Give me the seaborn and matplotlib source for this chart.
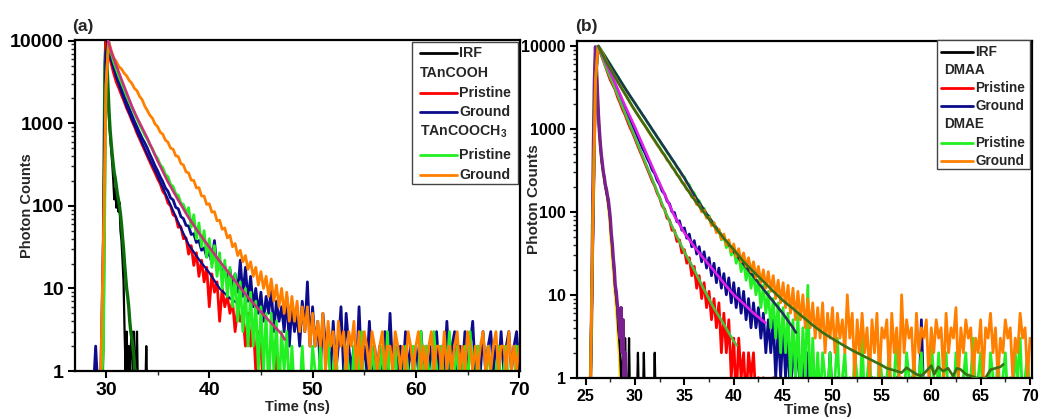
import numpy as np
import pandas as pd
import seaborn as sns
import matplotlib
matplotlib.use("Agg")
import matplotlib.pyplot as plt
from matplotlib.lines import Line2D
from matplotlib.patches import Rectangle
from matplotlib.ticker import MultipleLocator, FixedLocator, FixedFormatter

# ---------------- DATA : panel (a) ----------------
DT = 0.25          # ns per plotted channel (data curves)
DT_IRF = 0.1       # ns per plotted channel (IRF curves)

# TAnCOOH pristine (red), start 29.75 ns
a_red_t0 = 29.75
a_red = [3, 9900, 7200, 5300, 4000, 3150, 2650, 2200, 1850, 1520, 1300, 1080, 920, 760, 650, 550, 470,
         400, 340, 290, 250, 212, 185, 150, 136, 108, 100, 78, 74, 55, 56, 40, 41, 26, 33, 19, 27, 14, 22,
         12, 18, 6, 15, 9, 12, 4, 10, 6, 8, 5, 7, 3, 6, 4, 5, 2, 5, 2, 4, 1, 3, 2, 0, 1, 0, 1, 0, 2, 0, 1]
# TAnCOOH ground (navy), start 28.75 ns
a_blue_t0 = 28.75
a_blue = [0, 2, 0, 1, 40, 7000, 9700, 6100, 4700, 3850, 3150, 2600, 2150, 1800, 1500, 1270, 1060, 900, 770,
          660, 580, 500, 420, 360, 305, 265, 225, 196, 165, 150, 125, 118, 96, 92, 74, 70, 58, 57, 45, 46, 36,
          38, 29, 31, 24, 28, 20, 38, 17, 22, 14, 19, 12, 17, 10, 15, 9, 22, 8, 18, 7, 14, 6, 10, 5, 9, 4, 8,
          5, 10, 3, 7, 4, 6, 3, 8, 2, 6, 3, 5, 2, 7, 3, 12, 2,
          6, 2, 4, 1, 5, 2, 2, 1, 4, 1, 2, 6, 1, 5, 2, 1, 2, 1, 6, 1, 2, 1, 4, 1, 2, 1, 2, 1, 3, 1, 5, 1, 2,
          1, 2, 1, 3, 1, 2, 1, 2, 1, 3, 1, 2, 1, 2, 1, 3, 1, 2, 1, 4, 1, 2, 3, 1, 2, 1, 3, 1, 2, 4, 1, 2, 1,
          3, 1, 2, 3, 1, 2, 1, 3, 1, 2, 3, 1, 2, 3, 1]
# TAnCOOCH3 pristine (green), start 29.5 ns
a_green_t0 = 29.5
a_green = [0, 2, 3000, 9800, 7100, 5500, 4500, 3700, 3100, 2600, 2150, 1820, 1560, 1320, 1130, 960, 840, 720,
           640, 545, 490, 415, 375, 315, 290, 240, 225, 182, 172, 140, 134, 108, 104, 82,
           95, 55, 78, 40, 62, 32, 50, 24, 40, 18, 33, 14, 27, 10, 22, 8, 18, 6, 15, 4, 12, 3, 10, 2, 9, 2,
           7, 1, 6, 1, 5, 0, 5, 1, 4, 0, 3, 1, 3, 0, 2, 0, 1, 0, 2, 0, 1,
           0, 2, 1, 0, 2, 0, 1, 3, 0, 1, 2, 0, 1, 0, 2, 1, 0, 2, 0, 1, 3, 0, 1, 0, 2, 1, 0, 1, 2, 0, 3, 0, 1,
           2, 0, 1, 0, 2, 1, 0, 2, 0, 1, 3, 0, 2, 1, 0, 3, 1, 0, 2, 0, 1, 3, 0, 1, 2, 0, 1, 2, 0, 3, 1, 0, 2,
           0, 1, 0, 2, 1, 0, 1, 2, 0, 1, 2, 0, 1, 0, 2]
# TAnCOOCH3 ground (orange), start 29.5 ns
a_orange_t0 = 29.5
a_orange = [1, 40, 2600, 9900, 7700, 6200, 5600, 4850, 4550, 4050, 3750, 3300, 3050, 2650, 2480, 2120, 1930,
            1620, 1430, 1250, 1150, 980, 910, 780, 735, 625, 590, 500, 485, 405, 395, 325, 312, 258, 250, 205,
            203, 165, 166, 132, 131, 104, 106, 84, 85, 66, 67, 52, 54, 41, 44, 32, 35, 25, 29, 21, 25, 17, 21,
            14, 18, 11, 16, 10, 14, 8, 13, 7, 11, 6, 10, 5, 9, 4, 8, 4, 7, 3, 6, 3, 6, 2, 5, 2, 4, 2, 5, 1, 4,
            2, 3, 1, 4, 2, 3, 1, 3, 2, 4, 1, 3, 1, 3,
            2, 1, 3, 2, 1, 2, 3, 1, 2, 2, 1, 3, 2, 1, 2, 1, 3, 2, 1, 2, 3, 1, 2, 1, 2, 3, 1, 2, 2, 1, 3, 1, 2,
            1, 2, 3, 1, 2, 1, 3, 2, 1, 2, 1, 2, 3, 1, 2, 1, 2, 3, 1, 2, 2, 1, 3, 1, 2, 1, 2, 2]
# IRF (black) and second IRF trace (dark green), start 29.6 ns, 0.1 ns channels
a_irf_t0 = 29.6
a_irf = [0, 1, 30, 3000, 9500, 4200, 2000, 1100, 700, 480, 330, 210, 120, 160, 95, 125, 85, 110, 50, 38, 22,
         12, 3, 1, 3, 1, 2, 1, 2, 3, 1, 3, 1, 0, 3, 0, 0, 0, 0, 0, 0, 0, 0, 2, 0, 0, 0]
a_irf2_t0 = 29.6
a_irf2 = [0, 2, 200, 5200, 10000, 5200, 2600, 1350, 820, 580, 420, 320, 250, 215, 175, 140, 120, 100, 80, 60,
          42, 30, 20, 14, 10, 8, 6, 4, 3, 2.5, 2, 1.5, 1, 1]
# fit curve (crimson) through TAnCOOCH3 pristine
a_fit1_t = [30.2, 30.5, 31, 31.5, 32, 32.5, 33, 34, 35, 36, 37, 38, 39, 40, 41, 42, 43, 44, 45, 46, 47, 47.3]
a_fit1 = [10000, 7400, 5000, 3400, 2340, 1620, 1175, 660, 350, 195, 117, 72, 47, 31.6, 21.4, 14.8, 10.2, 7.2,
          5.2, 3.8, 2.8, 2.4]
# fit curve (navy) through TAnCOOH
a_fit2_t = [30.1, 30.5, 31, 32, 33, 34, 35, 36, 37, 38, 39, 40, 41, 42, 43]
a_fit2 = [10000, 5900, 3550, 1585, 795, 417, 229, 120, 63, 34, 22.4, 15.5, 10, 7.6, 6.3]

# ---------------- DATA : panel (b) ----------------
b_red_t0 = 25.5   # DMAA pristine
b_red = [1, 80, 3500, 9800, 8300, 6900, 5700, 4700, 3900, 3400, 2950, 2400, 2050, 1700, 1480, 1230, 1040, 900,
         760, 640, 540, 460, 390, 330, 280, 235, 205, 168, 148, 118, 108, 84, 80, 60, 60, 44, 46, 32, 35, 24,
         28, 17, 22, 12, 17, 9, 14, 7, 11, 5, 9, 4, 8, 2, 6, 2, 5, 1, 3, 0, 3, 1, 2, 0, 2, 1, 2, 0, 1, 0, 1,
         0, 0, 0, 1, 0]
b_blue_t0 = 25.5  # DMAA ground
b_blue = [1, 60, 3300, 9700, 8700, 7300, 6400, 5400, 4500, 3900, 3450, 2850, 2450, 2050, 1800, 1520, 1300, 1120,
          960, 820, 700, 590, 520, 440, 385, 320, 290, 240, 215, 178, 165, 135, 125, 100, 98, 76, 78, 60, 64,
          48, 54, 38, 45, 31, 38, 25, 33, 21, 28, 17, 24, 14, 21, 12, 18, 10, 16, 8, 14, 7, 12, 6, 11, 5, 9,
          4, 8, 4, 7, 3, 6, 2, 5, 2, 5, 1, 4, 1, 4, 1, 3, 0, 3, 1, 3, 0, 2, 0, 2, 0, 1,
          0, 1, 0, 0, 1, 0, 2, 0, 0, 1, 0, 0, 1, 0, 0, 0, 1, 0, 0, 1, 0, 0, 0, 1, 0, 0, 0, 0, 1, 0, 0, 0, 0,
          1, 0, 0, 0, 0, 0, 1, 0, 0, 0, 5, 0]
b_green_t0 = 25.5  # DMAE pristine
b_green = [1, 100, 3800, 9900, 9300, 8300, 7500, 6700, 6000, 5350, 4800, 4300, 3850, 3450, 3100, 2780, 2490,
           2250, 2050, 1820, 1650, 1480, 1350, 1200, 1090, 970, 890, 790, 720, 640, 590, 520, 480, 425, 395,
           345, 320, 280, 262, 225, 212, 180, 168, 142, 136, 113, 110, 90, 90, 72, 74, 58, 61, 46, 52, 37, 43,
           30, 36, 24, 31, 19, 26, 15, 22, 12, 18, 10, 15, 7, 13, 6, 11, 4, 9, 3, 8, 2, 7, 2, 6, 1, 5, 1, 6,
           0, 4, 1, 13, 0, 3, 0, 2, 0, 2,
           1, 0, 2, 0, 1, 3, 0, 1, 2, 0, 1, 0, 2, 1, 0, 3, 0, 1, 2, 0, 1, 0, 2, 1, 0, 1, 2, 0, 1, 3, 0, 1, 0,
           2, 1, 0, 2, 0, 1, 2, 0, 1, 0, 3, 1, 0, 2, 0, 1, 2, 0, 1, 0, 2, 1, 0, 1, 2, 0, 1, 3, 0, 1, 2, 0, 1,
           0, 2, 1, 0, 2, 0, 1, 2, 0, 1, 0, 2, 1, 3, 0, 1, 2, 0, 1]
b_orange_t0 = 25.5  # DMAE ground
b_orange = [1, 90, 3600, 9800, 9200, 8000, 6900, 6000, 5350, 4700, 4200, 3700, 3300, 2950, 2650, 2350, 2080,
            1850, 1680, 1500, 1350, 1210, 1100, 980, 880, 790, 725, 640, 590, 520, 485, 420, 395, 345, 325, 280,
            265, 228, 218, 185, 178, 150, 148, 122, 122, 100, 104, 84, 86, 68, 74, 56, 62, 47, 54, 40, 46, 33,
            41, 29, 36, 25, 32, 22, 28, 19, 25, 16, 22, 14, 20, 12, 19, 11, 17, 9, 15, 8, 14, 7, 13, 6, 12, 5,
            11, 5, 10, 4, 9, 4, 8, 3, 7, 3, 8, 2, 6, 3, 7, 2, 6, 3, 5, 2, 10, 3, 6, 1, 5, 2, 6, 2, 4, 1, 5, 2,
            6, 1, 4, 3, 5, 1, 6, 2, 4, 1, 10, 2, 5, 3, 4, 1, 6, 2, 4, 3, 5, 1, 4, 2, 5, 3, 4, 1, 6, 2, 4, 3, 7,
            1, 4, 2, 5, 3, 4, 1, 3, 2, 5, 1, 4, 3, 6, 2, 4, 1, 3, 2, 5, 3, 4, 1, 3, 2, 6, 3, 4, 1, 3]
# IRF traces, 0.1 ns channels
b_irf_t0 = 25.4
b_irf = [0, 1, 4, 50, 600, 3600, 9500, 5200, 2600, 1400, 880, 600, 430, 340, 300, 240, 200, 170, 150, 120,
         100, 75, 50, 38, 25, 18, 12, 9, 7, 4, 3, 2, 1, 1, 2, 0, 3, 1, 0, 0, 3, 0, 0, 0, 0, 0, 0, 0, 0, 2,
         0, 0, 0, 0, 0, 2, 0, 0, 0, 0, 0, 0, 0, 0, 0, 0, 2, 0, 0]
b_irf2_t0 = 25.4
b_irf2 = [0, 1, 5, 60, 700, 4000, 9800, 5500, 2800, 1500, 950, 650, 480, 380, 300, 260, 210, 190, 160, 140,
          110, 85, 55, 42, 28, 21, 13, 11, 8, 6, 4, 3, 7, 2, 5, 1, 2, 0]
b_irf3_t0 = 25.5
b_irf3 = [0, 3, 50, 800, 5000, 9000, 5000, 2500, 1300, 800, 580, 450, 360, 290, 240, 210, 180, 150, 120, 90,
          60, 40, 28, 20, 14, 10, 7, 5, 3, 2, 1]
# fit curves
b_fit_red_t = [26.3, 27, 28, 29, 30, 31, 32, 33, 34, 35, 36, 37, 38, 39, 40, 40.3]
b_fit_red = [10000, 5750, 3020, 1550, 794, 407, 209, 105, 58, 33, 20, 11.5, 6.9, 4.4, 2.75, 2.45]
b_fit_blue_t = [26.3, 27, 28, 29, 30, 31, 32, 33, 34, 35, 36, 37, 38, 39, 40, 41, 42, 43, 43.2]
b_fit_blue = [10000, 6460, 3550, 1900, 1050, 560, 300, 163, 89, 56, 38, 27, 19.5, 13.8, 10, 7.8, 6.0, 4.8, 4.6]
b_fit_green_t = [26.3, 27, 28, 29, 30, 31, 32, 33, 34, 35, 36, 37, 38, 39, 40, 41, 42, 43, 44, 45, 46, 46.3]
b_fit_green = [10000, 7400, 4790, 3090, 2040, 1350, 890, 590, 390, 257, 160, 105, 71, 48, 33, 23.4, 16.6, 11.7,
               8.3, 5.9, 4.0, 3.5]
b_fit_orange_t = [26.3, 27, 28, 29, 30, 31, 32, 33, 34, 35, 36, 37, 38, 39, 40, 41, 42, 43, 44, 45, 46, 47, 48,
                  49, 50, 51, 52, 53, 54, 55, 55.5, 56, 56.5, 57, 57.5, 58, 58.5, 59, 59.5, 60, 60.3, 60.7, 61.2,
                  61.7, 62.2, 62.6, 63, 63.5, 64, 64.5, 65, 65.5, 66, 66.5, 67, 67.3]
b_fit_orange = [10000, 6760, 4170, 2630, 1660, 1100, 724, 479, 316, 209, 141, 98, 68, 48, 35, 25, 19, 14.5, 11,
                8.5, 6.8, 5.4, 4.3, 3.5, 2.95, 2.5, 2.14, 1.86, 1.62, 1.41, 1.3, 1.25, 1.2, 1.15, 1.32, 1.2, 1.1,
                1.05, 1.2, 1.4, 1.1, 1.35, 1.2, 1.3, 1.05, 1.3, 1.25, 1.1, 1.05, 1.0, 0.95, 1.0, 1.25, 1.3, 1.35,
                1.45]

# ---------------- labels ----------------
xlabel = "Time (ns)"
ylabel = "Photon Counts"
a_xticks = [30, 40, 50, 60, 70]
b_xticks = [25, 30, 35, 40, 45, 50, 55, 60, 65, 70]
y_ticks = [1, 10, 100, 1000, 10000]
y_ticklabels = ["1", "10", "100", "1000", "10000"]
a_legend = ["IRF", "TAnCOOH", "Pristine", "Ground", r"TAnCOOCH$_\mathbf{3}$", "Pristine", "Ground"]
b_legend = ["IRF", "DMAA", "Pristine", "Ground", "DMAE", "Pristine", "Ground"]

# ---------------- style ----------------
sns.set_theme(style="ticks")
plt.rcParams["font.family"] = ["Liberation Sans", "DejaVu Sans"]
plt.rcParams["font.weight"] = "bold"
plt.rcParams["axes.labelweight"] = "bold"
plt.rcParams["mathtext.fontset"] = "custom"
plt.rcParams["mathtext.rm"] = "Liberation Sans:bold"
plt.rcParams["mathtext.bf"] = "Liberation Sans:bold"

C_RED = "#FF0000"
C_NAVY = "#0B0B8C"
C_LIME = "#22F022"
C_ORANGE = "#FF8000"
C_BLACK = "#000000"
C_DKGREEN = "#0B6E0B"
C_CRIMSON = "#C8327A"
C_MAGENTA = "#E020E8"
C_FITGREEN = "#4CBF3C"
C_SLATE = "#1F3355"
C_OLIVE = "#3A6E14"
C_PURPLE = "#7A1F8F"
C_YELLOW = "#FFE020"

W, H = 1043, 419
fig = plt.figure(figsize=(W / 100, H / 100), dpi=100)
ax_a = fig.add_axes([75 / W, 48 / H, 445 / W, 331 / H])
ax_b = fig.add_axes([576.7 / W, 41.3 / H, 455 / W, 336.7 / H])

LW = 2.0


def channel_trace(ax, t0, dt, counts, color, lw=LW, z=2):
    c = np.asarray(counts, dtype=float)
    t = t0 + dt * np.arange(len(c))
    y = np.clip(c, 0.5, None)   # empty channels drawn just below the axis floor
    sns.lineplot(x=t, y=y, ax=ax, color=color, linewidth=lw, estimator=None, sort=False,
                 errorbar=None, legend=False, zorder=z)


def fit_trace(ax, t, counts, color, lw=2.0, z=5):
    sns.lineplot(x=np.asarray(t, float), y=np.asarray(counts, float), ax=ax, color=color, linewidth=lw,
                 estimator=None, sort=False, errorbar=None, legend=False, zorder=z)


# panel (a)
channel_trace(ax_a, a_irf_t0, DT_IRF, a_irf, C_BLACK, 1.6, 2)
channel_trace(ax_a, a_irf2_t0, DT_IRF, a_irf2, C_DKGREEN, 2.4, 2.1)
channel_trace(ax_a, a_red_t0, DT, a_red, C_RED, LW, 2.2)
channel_trace(ax_a, a_blue_t0, DT, a_blue, C_NAVY, LW, 2.3)
fit_trace(ax_a, a_fit2_t, a_fit2, C_NAVY, 1.6, 2.35)
channel_trace(ax_a, a_green_t0, DT, a_green, C_LIME, LW, 2.4)
channel_trace(ax_a, a_orange_t0, DT, a_orange, C_ORANGE, LW, 2.5)
fit_trace(ax_a, a_fit1_t, a_fit1, C_CRIMSON, 1.9, 5)

# panel (b)
channel_trace(ax_b, b_irf3_t0, DT_IRF, b_irf3, C_YELLOW, 2.2, 2)
channel_trace(ax_b, b_irf_t0, DT_IRF, b_irf, C_BLACK, 1.6, 2.05)
channel_trace(ax_b, b_irf2_t0, DT_IRF, b_irf2, C_PURPLE, 2.4, 2.1)
channel_trace(ax_b, b_red_t0, DT, b_red, C_RED, LW, 2.2)
channel_trace(ax_b, b_blue_t0, DT, b_blue, C_NAVY, LW, 2.3)
channel_trace(ax_b, b_green_t0, DT, b_green, C_LIME, LW, 2.4)
fit_trace(ax_b, b_fit_green_t, b_fit_green, C_SLATE, 1.9, 2.45)
channel_trace(ax_b, b_orange_t0, DT, b_orange, C_ORANGE, LW, 2.5)
fit_trace(ax_b, b_fit_red_t, b_fit_red, C_FITGREEN, 1.9, 5)
fit_trace(ax_b, b_fit_blue_t, b_fit_blue, C_MAGENTA, 1.9, 5.1)
fit_trace(ax_b, b_fit_orange_t, b_fit_orange, C_OLIVE, 1.9, 5.2)


def style_axes(ax, xlim, ylim, xticks, xminor, tick_fs, lab_fs, ylab_pos, xlab_pos):
    ax.set_yscale("log")
    ax.set_xlim(*xlim)
    ax.set_ylim(*ylim)
    ax.xaxis.set_major_locator(FixedLocator(xticks))
    ax.xaxis.set_major_formatter(FixedFormatter([str(v) for v in xticks]))
    ax.xaxis.set_minor_locator(MultipleLocator(xminor))
    ax.yaxis.set_major_locator(FixedLocator(y_ticks))
    ax.yaxis.set_major_formatter(FixedFormatter(y_ticklabels))
    for s in ax.spines.values():
        s.set_visible(True)
        s.set_linewidth(1.6)
        s.set_color("black")
    ax.tick_params(which="major", direction="out", length=5, width=1.5, labelsize=tick_fs, pad=3,
                   colors="black")
    ax.tick_params(which="minor", direction="out", length=3, width=1.0)
    for lab in ax.get_xticklabels() + ax.get_yticklabels():
        lab.set_fontweight("bold")
    ax.set_xlabel(xlabel, fontsize=lab_fs, fontweight="bold")
    ax.set_ylabel(ylabel, fontsize=lab_fs, fontweight="bold")
    ax.yaxis.set_label_coords(*ylab_pos)
    ax.xaxis.set_label_coords(*xlab_pos)
    ax.grid(False)
    ax.set_facecolor("white")


style_axes(ax_a, (27.0, 70.08), (1, 10200), a_xticks, 5, 14, 10.5, (-0.092, 0.5), (0.5, -0.088))
style_axes(ax_b, (24.1, 70.17), (1, 11500), b_xticks, 2.5, 11.5, 11, (-0.078, 0.53), (0.531, -0.076))


def fx(px):
    return px / W


def fy(py):
    return 1 - py / H


def draw_legend(labels, colors, box, rows, hx0, hx1, tx, headx, fs):
    x0, y0, x1, y1 = box
    fig.add_artist(Rectangle((fx(x0), fy(y1)), fx(x1) - fx(x0), fy(y0) - fy(y1), transform=fig.transFigure,
                             facecolor="white", edgecolor="#444444", linewidth=1.0, zorder=20))
    for lab, col, ry in zip(labels, colors, rows):
        if col is None:
            fig.text(fx(headx), fy(ry), lab, fontsize=fs, fontweight="bold", ha="left", va="center",
                     zorder=21)
        else:
            fig.add_artist(Line2D([fx(hx0), fx(hx1)], [fy(ry), fy(ry)], transform=fig.transFigure,
                                  color=col, lw=2.0, zorder=21))
            fig.text(fx(tx), fy(ry), lab, fontsize=fs, fontweight="bold", ha="left", va="center", zorder=21)


leg_colors = [C_BLACK, None, C_RED, C_NAVY, None, C_LIME, C_ORANGE]
draw_legend(a_legend, leg_colors, (412, 42, 518, 184), [53, 73, 93, 112, 132, 155, 175],
            420, 457, 459, 420, 10.2)
draw_legend(b_legend, leg_colors, (937, 40, 1030, 169), [52, 70, 88, 106, 124, 143, 161],
            941, 973, 975, 944, 9.8)

fig.text(72 / W, 1 - 26 / H, "(a)", fontsize=12.5, fontweight="bold", va="center", ha="left")
fig.text(575 / W, 1 - 26 / H, "(b)", fontsize=12.5, fontweight="bold", va="center", ha="left")

fig.savefig("out.png", dpi=100, facecolor="white")
